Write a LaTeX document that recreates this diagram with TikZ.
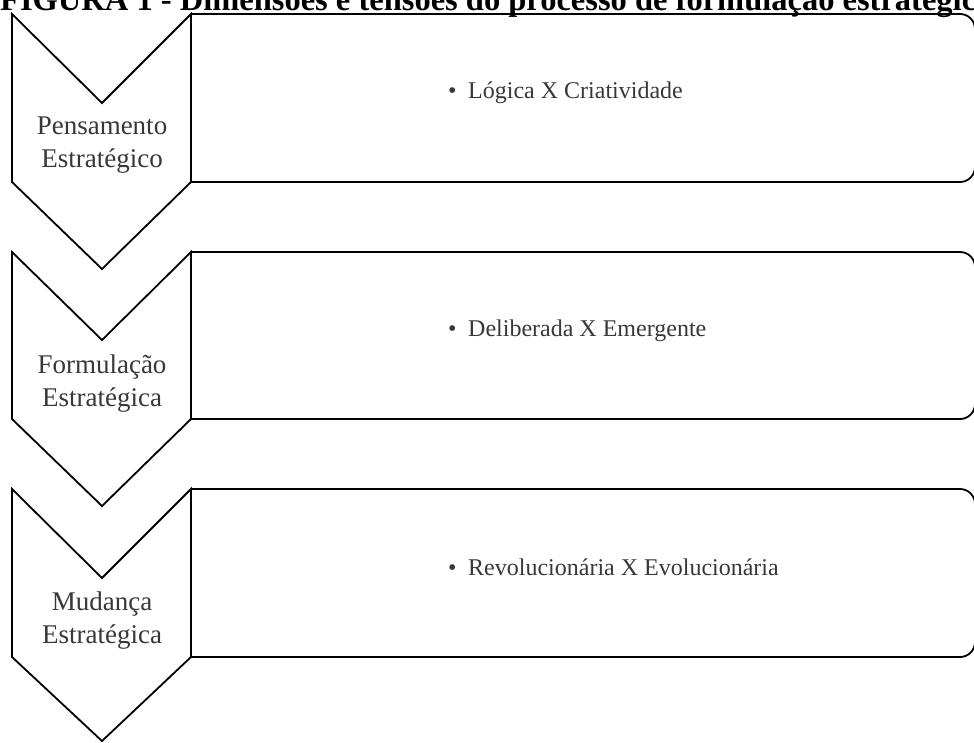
\documentclass[tikz,border=0pt]{standalone}
\usepackage{fontspec}
\setmainfont{Liberation Serif}
\begin{document}
\begin{tikzpicture}[x=1pt,y=-1pt,
  chev/.style={draw=black,line width=1.8pt,fill=white,line join=miter},
  panel/.style={draw=black,line width=1.8pt,rounded corners=15pt},
  chevtext/.style={align=center,font=\fontsize{27}{33}\selectfont,text=black!78,inner sep=0pt,anchor=center},
  itemtext/.style={anchor=base west,font=\fontsize{24}{28}\selectfont,text=black!78,inner sep=0pt}]
\useasboundingbox (0,0) rectangle (974,742);
\node[anchor=base west,font=\fontsize{32.5}{36}\selectfont\bfseries,inner sep=0pt] (title) at (0,10) {FIGURA 1 - Dimensões e tensões do processo de formulação estratégica};
% panels
\draw[panel] (191,14) -- (975,14) -- (975,182) -- (191,182);
\draw[panel] (191,252) -- (975,252) -- (975,419) -- (191,419);
\draw[panel] (191,489) -- (975,489) -- (975,657) -- (191,657);
% chevrons
\draw[chev] (12,14) -- (102,103) -- (191,14) -- (191,182) -- (102,269) -- (12,182) -- cycle;
\draw[chev] (12,252) -- (102,340) -- (191,252) -- (191,419) -- (102,506) -- (12,419) -- cycle;
\draw[chev] (12,489) -- (102,578) -- (191,489) -- (191,657) -- (102,741) -- (12,657) -- cycle;
% chevron texts
\node[chevtext] (c1) at (102,145.5) {Pensamento\\Estratégico};
\node[chevtext] (c2) at (102,383.5) {Formulação\\Estratégica};
\node[chevtext] (c3) at (102,620.5) {Mudança\\Estratégica};
% item texts
\node[itemtext] (t1) at (448,98) {\makebox[20pt][l]{•}Lógica X Criatividade};
\node[itemtext] (t2) at (448,336) {\makebox[20pt][l]{•}Deliberada X Emergente};
\node[itemtext] (t3) at (448,575) {\makebox[20pt][l]{•}Revolucionária X Evolucionária};
\end{tikzpicture}
\end{document}
